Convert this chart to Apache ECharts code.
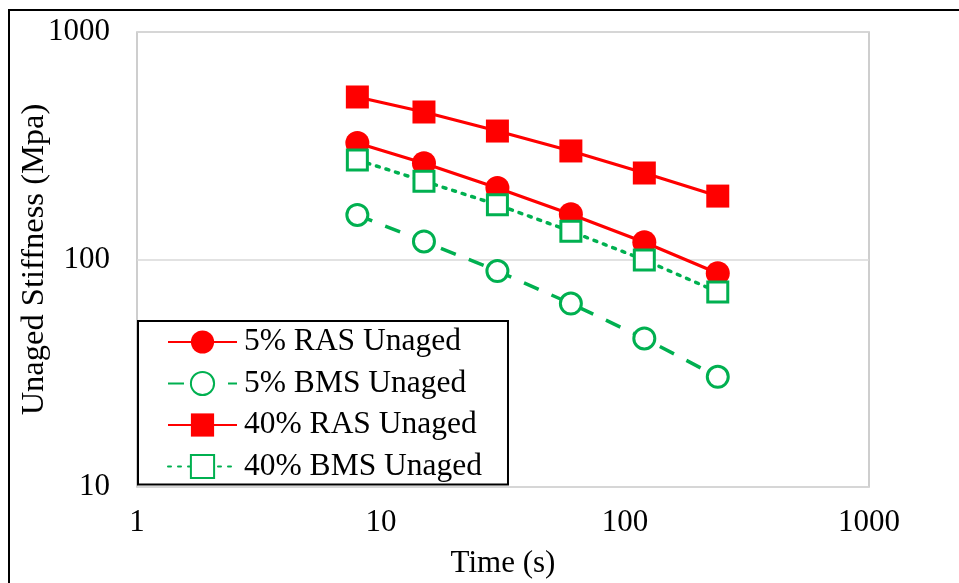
<!DOCTYPE html>
<html><head><meta charset="utf-8">
<script src="https://cdn.jsdelivr.net/npm/echarts@6/dist/echarts.min.js"></script>
<style>html,body{margin:0;padding:0;background:#fff}#c{width:959px;height:583px}
#frame{position:absolute;left:8px;top:9px;width:960px;height:600px;border:2px solid #000;box-sizing:border-box;pointer-events:none}</style>
</head><body><div id="c"></div><div id="frame"></div>
<script>
const times = [8, 15, 30, 60, 120, 240];
const ras5 = [325, 265, 206, 158, 119, 87];
const bms5 = [157, 120, 89, 64, 45, 30.5];
const ras40 = [518, 445, 367, 300, 240, 190];
const bms40 = [274, 221, 174, 133, 99.6, 72];
const names = ['5% RAS Unaged', '5% BMS Unaged', '40% RAS Unaged', '40% BMS Unaged'];
const xTicks = [1, 10, 100, 1000];
const yTicks = [10, 100, 1000];

const pair = v => times.map((t, i) => [t, v[i]]);
const red = '#ff0000', green = '#00b050';
const font = 'Liberation Serif';
const chart = echarts.init(document.getElementById('c'));
chart.setOption({
  animation: false,
  textStyle: { fontFamily: font },
  grid: { left: 137, right: 90, top: 32, bottom: 96, outerBoundsMode: 'none', show: true, borderColor: '#bfbfbf', borderWidth: 1.5, backgroundColor: '#fff' },
  xAxis: {
    type: 'log', logBase: 10, min: xTicks[0], max: xTicks[xTicks.length - 1],
    name: 'Time (s)', nameLocation: 'middle', nameGap: 61, nameMoveOverlap: false,
    nameTextStyle: { fontSize: 31, color: '#000', fontFamily: font },
    axisLine: { show: false }, axisTick: { show: false }, splitLine: { show: false },
    axisLabel: { fontSize: 31, color: '#000', margin: 20, fontFamily: font, formatter: v => String(v) }
  },
  yAxis: {
    type: 'log', logBase: 10, min: yTicks[0], max: yTicks[yTicks.length - 1],
    name: 'Unaged Stiffness (Mpa)', nameLocation: 'middle', nameGap: 86, nameRotate: 90, nameMoveOverlap: false,
    nameTextStyle: { fontSize: 32.5, color: '#000', fontFamily: font },
    axisLine: { show: false }, axisTick: { show: false },
    splitLine: { show: true, lineStyle: { color: '#d9d9d9', width: 1.5 } },
    axisLabel: { fontSize: 31, color: '#000', margin: 27, fontFamily: font, formatter: v => String(v) }
  },
  legend: {
    orient: 'vertical', left: 138, top: 321,
    backgroundColor: '#fff', borderColor: '#000', borderWidth: 2,
    padding: [5, 26, 2, 29], itemGap: 9.5, itemWidth: 69, itemHeight: 29,
    textStyle: { fontSize: 31.5, color: '#000', fontFamily: font, padding: [0, 0, 0, 2] },
    data: names
  },
  series: [
    { name: names[0], type: 'line', data: pair(ras5), symbol: 'circle', symbolSize: 24,
      itemStyle: { color: red }, lineStyle: { color: red, width: 3.2 } },
    { name: names[1], type: 'line', data: pair(bms5), symbol: 'circle', symbolSize: 21,
      itemStyle: { color: '#fff', borderColor: green, borderWidth: 3 },
      lineStyle: { color: green, width: 3.5, type: [16, 14] } },
    { name: names[2], type: 'line', data: pair(ras40), symbol: 'rect', symbolSize: 23,
      itemStyle: { color: red }, lineStyle: { color: red, width: 3.2 } },
    { name: names[3], type: 'line', data: pair(bms40), symbol: 'rect', symbolSize: 20,
      itemStyle: { color: '#fff', borderColor: green, borderWidth: 3 },
      lineStyle: { color: green, width: 3.5, type: [3, 7], cap: 'round' } }
  ]
});
</script></body></html>
